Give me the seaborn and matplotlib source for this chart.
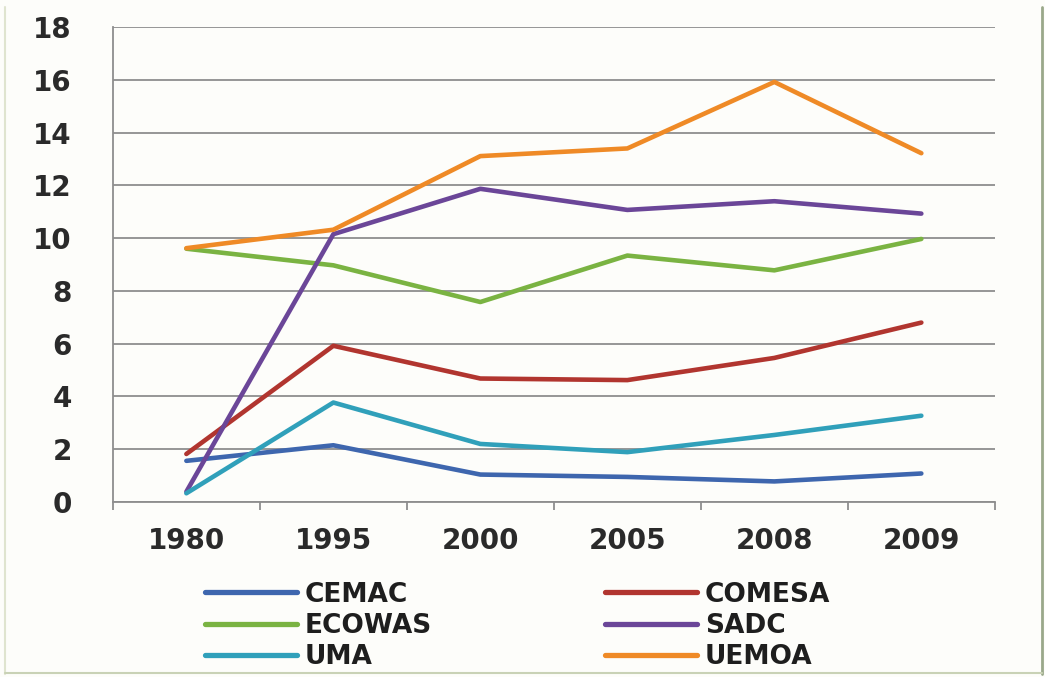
import matplotlib
matplotlib.use("Agg")
import matplotlib.pyplot as plt
from matplotlib.lines import Line2D
import seaborn as sns
import pandas as pd

years = ["1980", "1995", "2000", "2005", "2008", "2009"]
cemac = [1.56, 2.15, 1.04, 0.95, 0.78, 1.08]
comesa = [1.82, 5.92, 4.68, 4.62, 5.46, 6.8]
ecowas = [9.6, 8.97, 7.58, 9.34, 8.78, 9.97]
sadc = [0.39, 10.15, 11.87, 11.07, 11.4, 10.93]
uma = [0.33, 3.77, 2.2, 1.89, 2.54, 3.27]
uemoa = [9.62, 10.32, 13.11, 13.4, 15.92, 13.22]

series = {"CEMAC": cemac, "COMESA": comesa, "ECOWAS": ecowas,
          "SADC": sadc, "UMA": uma, "UEMOA": uemoa}
colors = {"CEMAC": "#3e66ae", "COMESA": "#b1352f", "ECOWAS": "#7ab342",
          "SADC": "#6b4698", "UMA": "#30a0ba", "UEMOA": "#ef8a26"}

rows = []
for name, vals in series.items():
    for y, v in zip(years, vals):
        rows.append({"year": y, "value": v, "group": name})
df = pd.DataFrame(rows)

sns.set_theme(style="white")
plt.rcParams["font.family"] = ["DejaVu Sans"]

fig = plt.figure(figsize=(10.45, 6.77), dpi=100, facecolor="#fdfdfa")
ax = fig.add_axes([0.108, 0.2585, 0.844, 0.7015])
ax.set_facecolor("#fdfdfa")

sns.lineplot(data=df, x="year", y="value", hue="group", palette=colors,
             linewidth=3.3, ax=ax, legend=False, sort=False)

ax.set_xlim(-0.5, 5.5)
ax.set_ylim(0, 18)
ax.set_yticks(range(0, 19, 2))
ax.set_xticks(range(len(years)))
ax.set_xticklabels(years)
ax.set_xticks([i - 0.5 for i in range(len(years) + 1)], minor=True)
ax.set_xlabel("")
ax.set_ylabel("")

grid_c = "#8e8e8e"
ax.yaxis.grid(True, color=grid_c, linewidth=1.3)
ax.set_axisbelow(True)
for s in ["top", "right"]:
    ax.spines[s].set_visible(False)
for s in ["left", "bottom"]:
    ax.spines[s].set_color(grid_c)
    ax.spines[s].set_linewidth(1.3)

ax.tick_params(axis="y", which="major", length=11.5, width=1.3, color=grid_c,
               pad=18, labelsize=20, labelcolor="#2a2a2a")
ax.tick_params(axis="x", which="major", length=0, pad=18, labelsize=20,
               labelcolor="#2a2a2a")
ax.tick_params(axis="x", which="minor", length=6, width=1.3, color=grid_c,
               bottom=True)
for lab in ax.get_xticklabels() + ax.get_yticklabels():
    lab.set_fontweight("bold")

order = ["CEMAC", "ECOWAS", "UMA", "COMESA", "SADC", "UEMOA"]
handles = [Line2D([0], [0], color=colors[n], linewidth=3.8, solid_capstyle="round")
           for n in order]
leg = fig.legend(handles, order, loc="upper left", bbox_to_anchor=(0.196, 0.141),
                 ncol=2, frameon=False, handlelength=3.5, handletextpad=0.29,
                 columnspacing=6.55, labelspacing=0.2, borderpad=0,
                 borderaxespad=0,
                 prop={"family": "DejaVu Sans", "weight": "bold", "size": 19})
for t in leg.get_texts():
    t.set_color("#1e1e1e")

# outer frame
fig.add_artist(Line2D([0.005, 0.005], [0.005, 0.99], transform=fig.transFigure,
                      color="#dfe4cf", linewidth=1.5))
fig.add_artist(Line2D([0.997, 0.997], [0.005, 0.99], transform=fig.transFigure,
                      color="#9aa88a", linewidth=2))
fig.add_artist(Line2D([0.005, 0.997], [0.006, 0.006], transform=fig.transFigure,
                      color="#c9d2b6", linewidth=1.5))

fig.savefig("out.png", dpi=100, facecolor=fig.get_facecolor())
